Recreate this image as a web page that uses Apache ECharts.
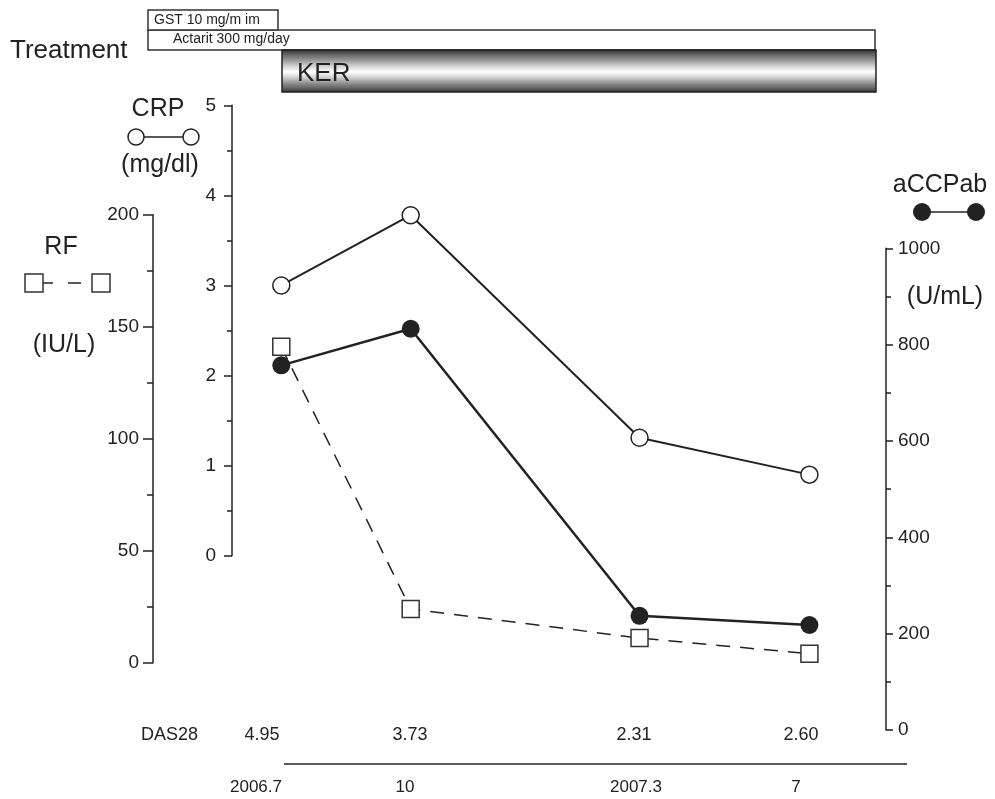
<!DOCTYPE html>
<html>
<head>
<meta charset="utf-8">
<script src="https://cdn.jsdelivr.net/npm/echarts@6/dist/echarts.min.js"></script>
<style>
html,body{margin:0;padding:0;background:#fff;}
#chart{width:995px;height:799px;}
</style>
</head>
<body>
<div id="chart"></div>
<script>
// ---- data ----
const visitMonths = [0, 2.94, 8.14, 12];          // months since 2006.7
const crpValues   = [3.0, 3.78, 1.31, 0.90];       // mg/dl
const rfValues    = [141, 24, 11, 4];              // IU/L
const accpValues  = [757, 833, 237, 218];          // U/mL
const das28Values = ['4.95', '3.73', '2.31', '2.60'];
const dateLabels  = ['2006.7', '10', '2007.3', '7'];

// ---- layout (pixel placement of text rows) ----
const bottomLabelX = [262, 410, 634, 801];
const dateLabelX   = [256, 405, 636, 796];

const FONT = '"Liberation Sans", Arial, Helvetica, sans-serif';
const INK = '#222';

const chart = echarts.init(document.getElementById('chart'), null, {renderer: 'canvas'});

const pair = (xs, ys) => xs.map((x, i) => [x, ys[i]]);

const xAxisBase = {type: 'value', min: -1.12, max: 13.74, show: false};

function yAxisCommon(extra) {
  return Object.assign({
    type: 'value',
    axisLine: {show: true, onZero: false, lineStyle: {color: INK, width: 1.5}},
    axisTick: {show: true, length: 8, lineStyle: {color: INK, width: 1.5}},
    minorTick: {show: true, splitNumber: 2, length: 5, lineStyle: {color: INK, width: 1.5}},
    splitLine: {show: false},
    minorSplitLine: {show: false}
  }, extra);
}

function txt(text, x, y, size, align, vAlign) {
  return {
    type: 'text', silent: true, z: 10,
    style: {
      text: text, x: x, y: y, fill: INK,
      font: size + 'px ' + FONT,
      textAlign: align || 'center', align: align || 'center',
      textVerticalAlign: vAlign || 'middle', verticalAlign: vAlign || 'middle'
    }
  };
}

const graphics = [];
// Treatment header
graphics.push(txt('Treatment', 10, 51, 26, 'left'));
graphics.push({type: 'rect', shape: {x: 148, y: 30, width: 727, height: 20},
  style: {fill: '#fff', stroke: '#333', lineWidth: 1.5}, silent: true});
graphics.push({type: 'rect', shape: {x: 148, y: 10, width: 130, height: 20},
  style: {fill: '#fff', stroke: '#333', lineWidth: 1.5}, silent: true});
graphics.push(txt('GST 10 mg/m im', 154, 20, 14, 'left'));
graphics.push(txt('Actarit 300 mg/day', 173, 39, 14, 'left'));
graphics.push({type: 'rect', shape: {x: 282, y: 50, width: 594, height: 42},
  style: {
    fill: new echarts.graphic.LinearGradient(0, 0, 0, 1, [
      {offset: 0, color: '#222'},
      {offset: 0.08, color: '#555'},
      {offset: 0.22, color: '#8a8a8a'},
      {offset: 0.38, color: '#cfcfcf'},
      {offset: 0.52, color: '#ffffff'},
      {offset: 0.64, color: '#d4d4d4'},
      {offset: 0.8, color: '#888'},
      {offset: 0.93, color: '#555'},
      {offset: 1, color: '#222'}
    ]),
    stroke: '#222', lineWidth: 1.5
  }, silent: true});
graphics.push(txt('KER', 297, 74, 26, 'left'));

// CRP legend key
graphics.push(txt('CRP', 158, 109, 25));
graphics.push({type: 'line', shape: {x1: 144, y1: 137, x2: 183, y2: 137}, style: {stroke: INK, lineWidth: 1.5}, silent: true});
graphics.push({type: 'circle', shape: {cx: 136, cy: 137, r: 8}, style: {fill: '#fff', stroke: INK, lineWidth: 1.5}, silent: true});
graphics.push({type: 'circle', shape: {cx: 191, cy: 137, r: 8}, style: {fill: '#fff', stroke: INK, lineWidth: 1.5}, silent: true});
graphics.push(txt('(mg/dl)', 160, 165, 25));

// RF legend key
graphics.push(txt('RF', 61, 247, 25));
graphics.push({type: 'line', shape: {x1: 43, y1: 283, x2: 53, y2: 283}, style: {stroke: INK, lineWidth: 1.5}, silent: true});
graphics.push({type: 'line', shape: {x1: 68, y1: 283, x2: 81, y2: 283}, style: {stroke: INK, lineWidth: 1.5}, silent: true});
graphics.push({type: 'rect', shape: {x: 25, y: 274, width: 18, height: 18}, style: {fill: '#fff', stroke: '#333', lineWidth: 1.5}, silent: true});
graphics.push({type: 'rect', shape: {x: 92, y: 274, width: 18, height: 18}, style: {fill: '#fff', stroke: '#333', lineWidth: 1.5}, silent: true});
graphics.push(txt('(IU/L)', 64, 345, 25));

// aCCPab legend key
graphics.push(txt('aCCPab', 940, 185, 25));
graphics.push({type: 'line', shape: {x1: 922, y1: 212, x2: 976, y2: 212}, style: {stroke: INK, lineWidth: 1.5}, silent: true});
graphics.push({type: 'circle', shape: {cx: 922, cy: 212, r: 9}, style: {fill: INK}, silent: true});
graphics.push({type: 'circle', shape: {cx: 976, cy: 212, r: 9}, style: {fill: INK}, silent: true});
graphics.push(txt('(U/mL)', 945, 297, 25));

// bottom rows
graphics.push(txt('DAS28', 198, 735, 18, 'right'));
das28Values.forEach((v, i) => graphics.push(txt(v, bottomLabelX[i], 735, 18)));
graphics.push({type: 'line', shape: {x1: 284, y1: 764, x2: 907, y2: 764}, style: {stroke: INK, lineWidth: 1.5}, silent: true});
dateLabels.forEach((v, i) => graphics.push(txt(v, dateLabelX[i], 787, 17)));

const plain = v => String(v);

const option = {
  backgroundColor: '#fff',
  animation: false,
  textStyle: {fontFamily: FONT},
  grid: [
    {left: 232, right: 109, top: 105.3, bottom: 243.3},   // CRP
    {left: 232, right: 109, top: 214.7, bottom: 136.3},   // RF
    {left: 232, right: 109, top: 248.3, bottom: 69}       // aCCPab
  ],
  xAxis: [
    Object.assign({gridIndex: 0}, xAxisBase),
    Object.assign({gridIndex: 1}, xAxisBase),
    Object.assign({gridIndex: 2}, xAxisBase)
  ],
  yAxis: [
    yAxisCommon({gridIndex: 0, position: 'left', min: 0, max: 5, interval: 1,
      axisLabel: {color: INK, fontSize: 19, fontFamily: FONT, margin: 16, formatter: plain}}),
    yAxisCommon({gridIndex: 1, position: 'left', offset: 79, min: 0, max: 200, interval: 50,
      axisTick: {show: true, length: 10, lineStyle: {color: INK, width: 1.5}},
      minorTick: {show: true, splitNumber: 2, length: 6, lineStyle: {color: INK, width: 1.5}},
      axisLabel: {color: INK, fontSize: 19, fontFamily: FONT, margin: 14, formatter: plain}}),
    yAxisCommon({gridIndex: 2, position: 'right', min: 0, max: 1000, interval: 200,
      axisTick: {show: true, length: 7, lineStyle: {color: INK, width: 1.5}},
      axisLabel: {color: INK, fontSize: 19, fontFamily: FONT, margin: 12, formatter: plain}})
  ],
  graphic: graphics,
  series: [
    {
      name: 'RF', type: 'line', xAxisIndex: 1, yAxisIndex: 1,
      data: pair(visitMonths, rfValues),
      symbol: 'rect', symbolSize: 17,
      lineStyle: {color: INK, width: 1.5, type: [14, 10]},
      itemStyle: {color: '#fff', borderColor: '#333', borderWidth: 1.5},
      z: 3
    },
    {
      name: 'aCCPab', type: 'line', xAxisIndex: 2, yAxisIndex: 2,
      data: pair(visitMonths, accpValues),
      symbol: 'circle', symbolSize: 18,
      lineStyle: {color: INK, width: 2.5},
      itemStyle: {color: INK, borderColor: INK, borderWidth: 0},
      z: 4
    },
    {
      name: 'CRP', type: 'line', xAxisIndex: 0, yAxisIndex: 0,
      data: pair(visitMonths, crpValues),
      symbol: 'circle', symbolSize: 17,
      lineStyle: {color: INK, width: 2},
      itemStyle: {color: '#fff', borderColor: INK, borderWidth: 1.5},
      z: 5
    }
  ]
};
chart.setOption(option);
</script>
</body>
</html>
